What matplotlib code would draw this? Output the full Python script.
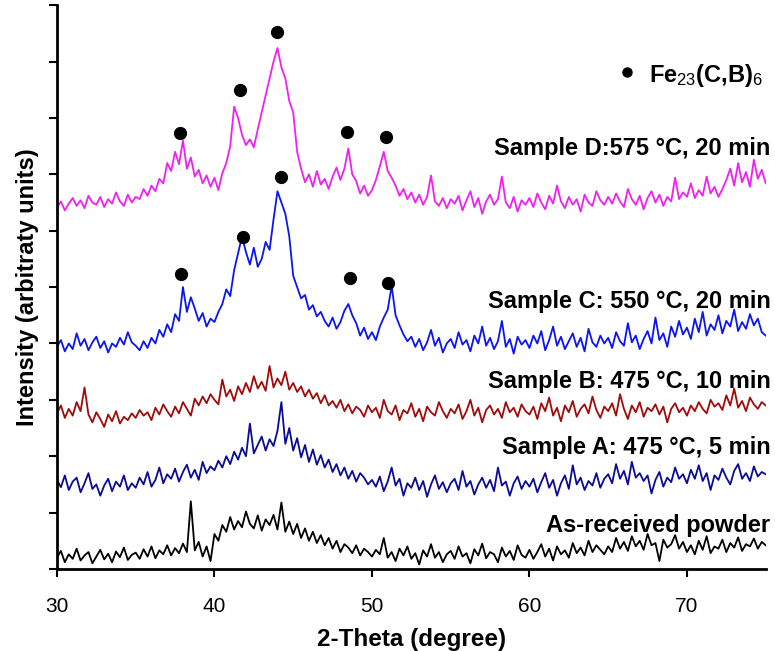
import numpy as np
import matplotlib
matplotlib.use("Agg")
import matplotlib.pyplot as plt

plt.rcParams['font.family'] = ['Liberation Sans', 'DejaVu Sans']
plt.rcParams['mathtext.fontset'] = 'custom'
plt.rcParams['mathtext.rm'] = 'Liberation Sans'
plt.rcParams['mathtext.it'] = 'Liberation Sans'
plt.rcParams['mathtext.bf'] = 'Liberation Sans:bold'

# 2-theta grid every 0.25 degree (30 ... 75)
two_theta = np.arange(30, 75.001, 0.25)

# intensities (arbitrary units, offset stack as in the figure)
as_received = [
    0.20, 0.32, 0.12, 0.26, 0.18, 0.36, 0.15, 0.24, 0.30, 0.10, 0.22, 0.34, 0.17, 0.27, 0.12, 0.31, 0.21, 0.38, 0.16, 0.25,
    0.29, 0.18, 0.35, 0.22, 0.40, 0.19, 0.33, 0.26, 0.42, 0.24, 0.37, 0.28, 0.45, 0.30, 1.20, 0.33, 0.48, 0.22, 0.40, 0.14,
    0.62, 0.50, 0.78, 0.66, 0.92, 0.70, 0.85, 0.74, 1.02, 0.80, 0.72, 0.95, 0.68, 0.88, 0.78, 0.96, 0.70, 1.18, 0.66, 0.84,
    0.62, 0.80, 0.55, 0.72, 0.50, 0.66, 0.46, 0.60, 0.42, 0.55, 0.36, 0.50, 0.30, 0.44, 0.38, 0.28, 0.42, 0.24, 0.36, 0.30,
    0.22, 0.34, 0.26, 0.55, 0.20, 0.30, 0.14, 0.36, 0.24, 0.40, 0.18, 0.28, 0.08, 0.33, 0.22, 0.44, 0.20, 0.30, 0.12, 0.26,
    0.32, 0.18, 0.40, 0.22, 0.28, 0.10, 0.35, 0.24, 0.45, 0.19, 0.30, 0.26, 0.12, 0.38, 0.22, 0.32, 0.16, 0.42, 0.25, 0.20,
    0.34, 0.18, 0.30, 0.44, 0.22, 0.36, 0.15, 0.40, 0.26, 0.33, 0.20, 0.46, 0.28, 0.38, 0.24, 0.50, 0.30, 0.42, 0.34, 0.26,
    0.40, 0.30, 0.55, 0.36, 0.48, 0.32, 0.58, 0.40, 0.50, 0.34, 0.62, 0.42, 0.46, 0.14, 0.52, 0.38, 0.44, 0.60, 0.36, 0.48,
    0.30, 0.42, 0.26, 0.50, 0.34, 0.58, 0.28, 0.40, 0.36, 0.52, 0.30, 0.46, 0.38, 0.56, 0.32, 0.44, 0.40, 0.54, 0.36, 0.48,
    0.42]

sample_a = [
    1.58, 1.45, 1.66, 1.40, 1.55, 1.62, 1.36, 1.52, 1.70, 1.42, 1.50, 1.30, 1.48, 1.60, 1.38, 1.55, 1.46, 1.66, 1.40, 1.52,
    1.44, 1.62, 1.50, 1.72, 1.46, 1.58, 1.80, 1.52, 1.68, 1.60, 1.78, 1.55, 1.72, 1.85, 1.62, 1.76, 1.58, 1.90, 1.70, 1.82,
    1.75, 1.92, 1.80, 2.00, 1.86, 2.08, 1.94, 2.15, 2.00, 2.58, 2.05, 2.20, 2.35, 2.10, 2.30, 2.18, 2.45, 2.96, 2.22, 2.50,
    2.10, 2.32, 1.98, 2.20, 1.90, 2.12, 1.85, 2.02, 1.80, 1.94, 1.72, 1.86, 1.66, 1.80, 1.60, 1.74, 1.55, 1.70, 1.62, 1.50,
    1.58, 1.46, 1.64, 1.38, 1.55, 1.80, 1.48, 1.60, 1.30, 1.52, 1.44, 1.62, 1.40, 1.56, 1.28, 1.50, 1.66, 1.42, 1.54, 1.36,
    1.52, 1.60, 1.40, 1.74, 1.46, 1.56, 1.32, 1.50, 1.62, 1.44, 1.58, 1.38, 1.80, 1.48, 1.55, 1.30, 1.52, 1.64, 1.42, 1.56,
    1.46, 1.60, 1.36, 1.54, 1.70, 1.44, 1.58, 1.30, 1.52, 1.66, 1.42, 1.84, 1.50, 1.62, 1.40, 1.56, 1.48, 1.70, 1.44, 1.60,
    1.68, 1.52, 1.86, 1.60, 1.74, 1.50, 1.90, 1.62, 1.70, 1.56, 1.66, 1.34, 1.58, 1.72, 1.46, 1.62, 1.54, 1.80, 1.60, 1.68,
    1.52, 1.76, 1.60, 1.84, 1.56, 1.70, 1.40, 1.66, 1.58, 1.78, 1.62, 1.50, 1.74, 1.86, 1.60, 1.70, 1.56, 1.82, 1.64, 1.72,
    1.68]

sample_b = [
    2.76, 2.90, 2.68, 2.84, 2.72, 2.96, 2.80, 3.22, 2.74, 2.60, 2.78, 2.66, 2.52, 2.74, 2.62, 2.80, 2.58, 2.70, 2.64, 2.76,
    2.68, 2.82, 2.72, 2.78, 2.64, 2.86, 2.74, 2.92, 2.80, 2.70, 2.88, 2.76, 2.96, 2.84, 2.72, 3.02, 2.90, 3.06, 2.94, 3.10,
    3.00, 2.92, 3.36, 3.06, 3.18, 2.98, 3.24, 3.10, 3.30, 3.14, 3.42, 3.20, 3.32, 3.16, 3.60, 3.22, 3.38, 3.26, 3.50, 3.18,
    3.30, 3.14, 3.24, 3.06, 3.18, 3.02, 3.12, 2.94, 3.08, 2.90, 2.98, 2.86, 3.00, 2.80, 2.92, 2.76, 2.88, 2.82, 2.70, 2.90,
    2.78, 2.86, 2.68, 3.00, 2.80, 2.74, 2.90, 2.64, 2.82, 2.76, 2.94, 2.70, 2.84, 2.62, 2.88, 2.78, 2.72, 2.96, 2.80, 2.68,
    2.84, 2.76, 2.92, 2.66, 2.80, 3.00, 2.72, 2.86, 2.60, 2.82, 2.90, 2.74, 2.84, 2.68, 2.96, 2.78, 2.86, 2.70, 2.92, 2.80,
    2.74, 2.88, 2.66, 2.94, 2.80, 3.04, 2.72, 2.86, 2.62, 2.90, 2.78, 2.98, 2.70, 2.84, 2.92, 2.76, 3.06, 2.82, 2.68, 2.88,
    2.80, 2.94, 2.72, 3.10, 2.84, 2.66, 2.90, 2.78, 2.96, 2.70, 2.86, 2.80, 2.92, 2.74, 2.88, 2.60, 2.84, 2.94, 2.78, 2.86,
    2.72, 2.90, 2.80, 2.96, 2.84, 2.76, 3.00, 2.88, 2.94, 2.82, 3.08, 2.90, 3.20, 2.86, 2.98, 2.80, 3.04, 2.92, 2.84, 2.96,
    2.90]

sample_c = [
    3.94, 4.06, 3.86, 4.00, 3.90, 4.18, 3.96, 4.08, 3.88, 4.02, 4.12, 3.92, 4.04, 3.84, 4.00, 3.94, 4.10, 3.98, 4.20, 4.02,
    3.96, 3.88, 4.04, 3.92, 4.10, 4.00, 4.24, 4.12, 4.34, 4.20, 4.52, 4.40, 5.00, 4.56, 4.82, 4.62, 4.40, 4.54, 4.30, 4.44,
    4.38, 4.56, 4.70, 4.96, 4.84, 5.30, 5.60, 5.90, 5.62, 5.40, 5.70, 5.36, 5.50, 5.80, 5.66, 6.20, 6.70, 6.50, 6.30, 5.90,
    5.20, 5.00, 4.80, 4.86, 4.60, 4.68, 4.48, 4.56, 4.40, 4.30, 4.46, 4.26, 4.38, 4.58, 4.70, 4.50, 4.36, 4.14, 4.28, 4.08,
    4.20, 4.06, 4.30, 4.46, 4.60, 5.02, 4.50, 4.32, 4.16, 4.04, 4.12, 3.94, 4.08, 3.88, 4.02, 4.24, 3.96, 4.10, 3.84, 4.00,
    4.08, 3.92, 4.20, 3.98, 4.06, 3.86, 4.14, 4.00, 4.30, 3.96, 4.10, 3.90, 4.04, 4.40, 3.94, 4.08, 3.82, 4.12, 3.98, 4.06,
    3.92, 4.14, 4.00, 4.22, 3.88, 4.06, 4.30, 3.96, 4.12, 3.90, 4.04, 4.18, 3.94, 4.10, 3.86, 4.26, 4.02, 3.94, 4.14, 4.00,
    4.10, 3.92, 4.20, 4.04, 3.96, 4.36, 4.02, 4.14, 3.90, 4.08, 4.22, 4.00, 4.46, 4.06, 4.18, 3.94, 4.30, 4.12, 4.40, 4.16,
    4.28, 4.08, 4.44, 4.20, 4.56, 4.14, 4.34, 4.24, 4.50, 4.18, 4.40, 4.30, 4.60, 4.22, 4.38, 4.26, 4.52, 4.32, 4.44, 4.20,
    4.14]

sample_d = [
    6.40, 6.52, 6.36, 6.48, 6.58, 6.44, 6.54, 6.40, 6.62, 6.50, 6.46, 6.60, 6.42, 6.56, 6.48, 6.68, 6.52, 6.44, 6.64, 6.50,
    6.60, 6.56, 6.74, 6.62, 6.80, 6.70, 6.92, 6.84, 7.20, 7.06, 7.40, 7.18, 7.60, 7.10, 7.30, 6.96, 7.08, 6.84, 6.98, 6.78,
    6.94, 6.72, 7.02, 7.20, 7.50, 8.20, 8.00, 7.70, 7.52, 7.62, 7.48, 7.80, 8.10, 8.40, 8.70, 9.00, 9.24, 8.90, 8.70, 8.30,
    8.10, 7.40, 7.10, 6.86, 7.00, 6.78, 7.06, 6.82, 6.92, 6.74, 6.96, 7.12, 6.90, 7.10, 7.46, 7.00, 6.88, 6.66, 6.80, 6.62,
    6.72, 6.90, 7.14, 7.40, 7.06, 6.94, 6.80, 6.62, 6.74, 6.56, 6.68, 6.50, 6.64, 6.46, 6.60, 6.98, 6.52, 6.44, 6.58, 6.40,
    6.56, 6.48, 6.62, 6.36, 6.54, 6.70, 6.42, 6.58, 6.30, 6.52, 6.64, 6.46, 6.56, 6.96, 6.50, 6.40, 6.60, 6.34, 6.54, 6.46,
    6.58, 6.42, 6.66, 6.50, 6.38, 6.62, 6.48, 6.80, 6.52, 6.40, 6.60, 6.46, 6.56, 6.34, 6.64, 6.50, 6.44, 6.70, 6.54, 6.46,
    6.60, 6.48, 6.66, 6.52, 6.42, 6.74, 6.56, 6.46, 6.62, 6.38, 6.58, 6.70, 6.50, 6.64, 6.44, 6.60, 6.52, 6.94, 6.56, 6.68,
    6.60, 6.84, 6.58, 6.72, 6.62, 6.96, 6.66, 6.78, 6.60, 6.74, 6.90, 7.10, 6.80, 7.20, 6.86, 7.04, 6.78, 7.26, 6.92, 7.08,
    6.84]

# Fe23(C,B)6 peak markers
d_peak_x = [37.8, 41.6, 44.0, 48.4, 50.9]
d_peak_y = [7.73, 8.49, 9.52, 7.75, 7.66]
c_peak_x = [37.9, 41.8, 44.2, 48.6, 51.0]
c_peak_y = [5.23, 5.89, 6.95, 5.16, 5.07]

labels = ["Sample D:575 \u00b0C, 20 min", "Sample C: 550 \u00b0C, 20 min",
          "Sample B: 475 \u00b0C, 10 min", "Sample A: 475 \u00b0C, 5 min",
          "As-received powder"]
label_y = [7.46, 4.75, 3.32, 2.16, 0.78]

fig = plt.figure(figsize=(7.75, 6.51), dpi=100)
ax = fig.add_axes([0.0735, 0.126, 0.9145, 0.866])

series = [sample_d, sample_c, sample_b, sample_a, as_received]
colors = ['#f020f0', '#0a14f5', '#a00a0a', '#0a0a96', '#000000']
for ys, c in zip(series, colors):
    ax.plot(two_theta, ys, color=c, lw=1.3)

ax.plot(d_peak_x, d_peak_y, 'o', color='black', ms=8.5, ls='none')
ax.plot(c_peak_x, c_peak_y, 'o', color='black', ms=8.5, ls='none')

# legend marker + text
ax.plot([66.2], [8.81], 'o', color='black', ms=6.5)
ax.text(67.6, 8.76, r'Fe$_{23}$(C,B)$_{6}$', fontsize=17, fontweight='bold',
        va='center', ha='left')

for txt, y in zip(labels, label_y):
    ax.text(75.3, y, txt, fontsize=17, fontweight='bold', ha='right', va='center')

ax.set_xlim(30, 75)
ax.set_ylim(0, 10)
ax.set_xticks([30, 40, 50, 60, 70])
ax.set_yticks(np.arange(0, 11, 1))
ax.set_yticklabels([])
ax.tick_params(axis='x', direction='out', length=6, width=1.5, labelsize=15, pad=14)
ax.tick_params(axis='y', direction='out', length=6, width=1.5)
for s in ['top', 'right']:
    ax.spines[s].set_visible(False)
for s in ['left', 'bottom']:
    ax.spines[s].set_linewidth(2)

ax.set_xlabel('2-Theta (degree)', fontsize=17.5, fontweight='bold', labelpad=9)
fig.text(28 / 775, 1 - 287 / 651, 'Intensity (arbitraty units)', rotation=90,
         fontsize=17, fontweight='bold', ha='center', va='center')

fig.savefig('out.png', dpi=100)
